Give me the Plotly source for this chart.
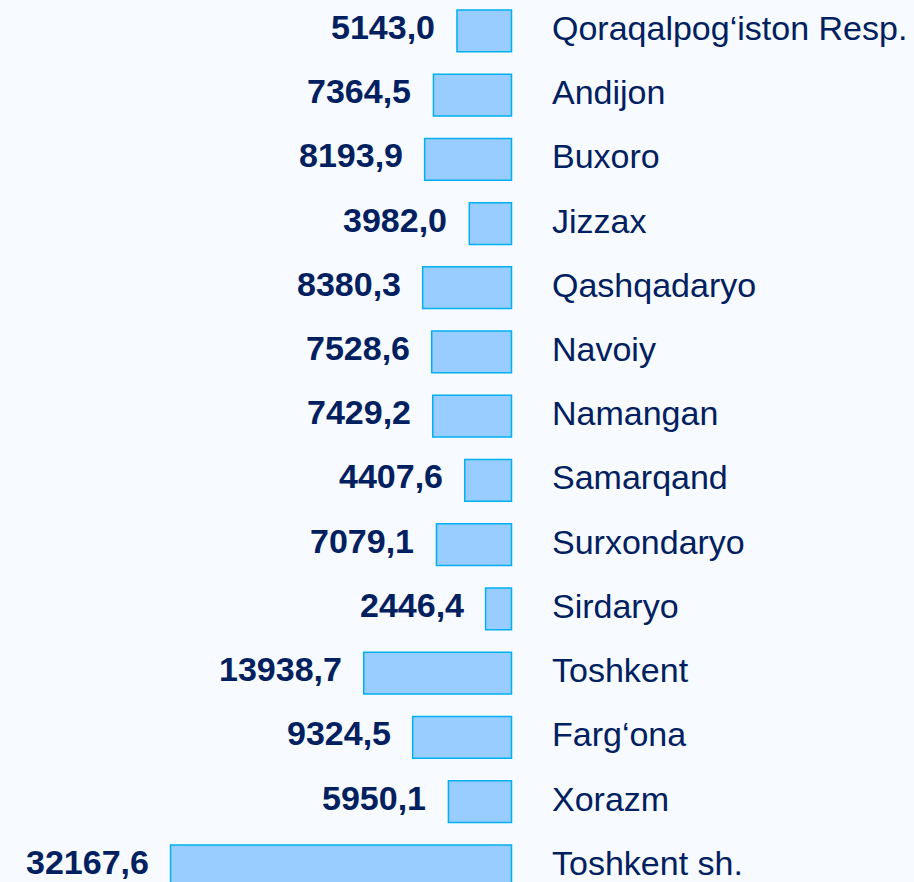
import plotly.graph_objects as go

categories = ["Qoraqalpog‘iston Resp.", "Andijon", "Buxoro", "Jizzax", "Qashqadaryo",
              "Navoiy", "Namangan", "Samarqand", "Surxondaryo", "Sirdaryo",
              "Toshkent", "Farg‘ona", "Xorazm", "Toshkent sh."]
values = [5143.0, 7364.5, 8193.9, 3982.0, 8380.3, 7528.6, 7429.2, 4407.6,
          7079.1, 2446.4, 13938.7, 9324.5, 5950.1, 32167.6]
value_labels = [f"{v:.1f}".replace(".", ",") for v in values]

NAVY = "#002060"
BG = "#F7FAFE"
FONT = "Liberation Sans, Arial, sans-serif"

idx = list(range(len(categories)))

fig = go.Figure()
fig.add_trace(go.Bar(
    y=idx, x=values, orientation="h",
    marker=dict(color="#99CCFF", line=dict(color="#00B0F0", width=1.5)),
    hoverinfo="skip",
))

for i, (v, t) in enumerate(zip(values, value_labels)):
    fig.add_annotation(x=v, y=i, text=f"<b>{t}</b>", showarrow=False,
                       xanchor="right", yanchor="middle", xshift=-20, yshift=4,
                       font=dict(family=FONT, size=34, color=NAVY))

for i, c in enumerate(categories):
    fig.add_annotation(x=0, y=i, text=c, showarrow=False,
                       xanchor="left", yanchor="middle", xshift=38, yshift=3,
                       font=dict(family=FONT, size=34, color=NAVY))

fig.update_layout(
    width=914, height=882,
    margin=dict(l=0, r=394, t=0, b=0),
    paper_bgcolor=BG, plot_bgcolor=BG,
    showlegend=False,
    bargap=0.35,
    xaxis=dict(range=[48255, -802], showgrid=False, zeroline=False,
               showticklabels=False, showline=False),
    yaxis=dict(range=[13.252, -0.480], showgrid=False,
               zeroline=False, showline=False, showticklabels=False),
)

fig.write_html("out.html", config={"displayModeBar": False},
               post_script="document.body.style.margin='0';document.body.style.overflow='hidden';")
